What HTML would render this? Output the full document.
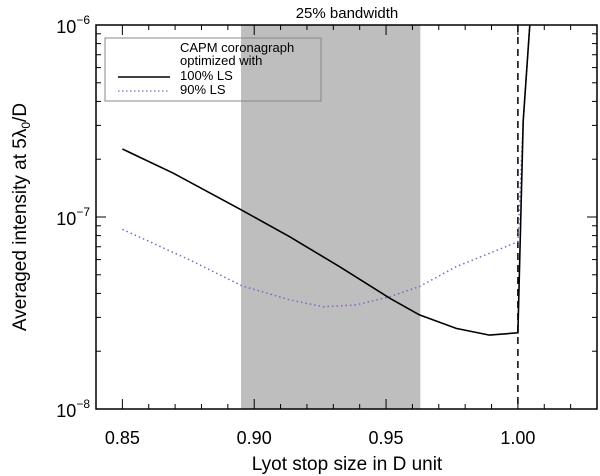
<!DOCTYPE html>
<html><head><meta charset="utf-8"><style>
html,body{margin:0;padding:0;background:#fff;}
svg{display:block;font-family:"Liberation Sans",sans-serif;}
</style></head><body>
<svg id="chart" width="600" height="476" viewBox="0 0 600 476">
<text x="347" y="18" text-anchor="middle" font-size="15">25% bandwidth</text>
<text x="347" y="470" text-anchor="middle" font-size="19">Lyot stop size in D unit</text>
<text transform="translate(26,217) rotate(-90)" text-anchor="middle" font-size="19">Averaged intensity at 5λ<tspan font-size="12" dy="4">0</tspan><tspan dy="-4">/D</tspan></text>
<g id="plot"></g>
</svg>
<script>
const xTicks=[0.85,0.90,0.95,1.00];
const xTickLabels=["0.85","0.90","0.95","1.00"];
const yDecades=[-8,-7,-6];
const yTickLabels=["8","7","6"];
const band=[0.895,0.963];
const vline=[1.0];
const lsX=[0.85,0.8693,0.8952,0.9135,0.9324,0.9514,0.9627,0.9766,0.9892,1.0,1.002,1.0045,1.006];
const ls100=[-6.646,-6.772,-6.964,-7.103,-7.259,-7.423,-7.51,-7.58,-7.615,-7.603,-6.5,-6.0,-5.8];
const ls90X=[0.85,0.8756,0.8952,0.9135,0.9261,0.9387,0.9514,0.9627,0.9766,0.9892,1.0,1.002,1.0045,1.006];
const ls90=[-7.064,-7.224,-7.358,-7.432,-7.467,-7.458,-7.415,-7.362,-7.259,-7.189,-7.129,-6.5,-6.0,-5.8];

const L=96,R=597,T=25,B=409,xmin=0.84,xmax=1.03;
const sx=v=>L+(v-xmin)/(xmax-xmin)*(R-L);
const sy=lg=>B-(lg-(-8))/2*(B-T);
const NS="http://www.w3.org/2000/svg";
const g=document.getElementById('plot');
function mk(t,a){const e=document.createElementNS(NS,t);for(const k in a)e.setAttribute(k,a[k]);g.appendChild(e);return e;}
const cp=mk('clipPath',{id:'cp'});g.removeChild(cp);
const cr=document.createElementNS(NS,'rect');cr.setAttribute('x',L);cr.setAttribute('y',T);cr.setAttribute('width',R-L);cr.setAttribute('height',B-T);cp.appendChild(cr);g.appendChild(cp);

let e=mk('rect',{x:sx(band[0]),y:T,width:sx(band[1])-sx(band[0]),height:B-T,fill:'#bebebe'});


e=mk('line',{x1:sx(vline[0]),x2:sx(vline[0]),y1:T,y2:B,stroke:'#000','stroke-width':1.5,'stroke-dasharray':'7,5'});



function path(xs,ys){return xs.map((x,i)=>(i?'L':'M')+sx(x).toFixed(1)+','+sy(ys[i]).toFixed(1)).join('');}
e=mk('path',{d:path(ls90X,ls90),fill:'none',stroke:'#8a5fc8','stroke-width':1.5,'stroke-dasharray':'1.5,3','clip-path':'url(#cp)'});


e=mk('path',{d:path(lsX,ls100),fill:'none',stroke:'#000','stroke-width':1.6,'clip-path':'url(#cp)'});



// axes box
e=mk('rect',{x:L,y:T,width:R-L,height:B-T,fill:'none',stroke:'#000','stroke-width':1.5});


// x ticks
for(let k=0;k<=19;k++){const v=xmin+k*0.01;const x=sx(v);const major=xTicks.some(t=>Math.abs(t-v)<1e-6);const len=major?10:5;
 mk('line',{x1:x,x2:x,y1:B,y2:B-len,stroke:'#000','stroke-width':1});
 mk('line',{x1:x,x2:x,y1:T,y2:T+len,stroke:'#000','stroke-width':1});}
xTicks.forEach((v,i)=>{const t=mk('text',{x:sx(v),y:444,'text-anchor':'middle','font-size':18});t.textContent=xTickLabels[i];
 
 });
// y ticks
yDecades.forEach((d,i)=>{const y=sy(d);
 mk('line',{x1:L,x2:L+10,y1:y,y2:y,stroke:'#000'});mk('line',{x1:R,x2:R-10,y1:y,y2:y,stroke:'#000'});
 const t=mk('text',{x:L-6,y:y+8,'text-anchor':'end','font-size':18});
 t.innerHTML='10<tspan font-size="12" dy="-9">−'+yTickLabels[i]+'</tspan>';
 
 
 if(d<-6){for(let m=2;m<=9;m++){const yy=sy(d+Math.log10(m));
  mk('line',{x1:L,x2:L+5,y1:yy,y2:yy,stroke:'#000'});mk('line',{x1:R,x2:R-5,y1:yy,y2:yy,stroke:'#000'});}}
});
// legend
e=mk('rect',{x:105,y:38,width:216,height:63,fill:'none',stroke:'#888','stroke-width':1});


[["CAPM coronagraph",52],["optimized with",65],["100% LS",80],[" 90% LS",94]].forEach(([s,y])=>{const t=mk('text',{x:180,y:y,'font-size':13,'xml:space':'preserve'});t.textContent=s;
 
 });
e=mk('line',{x1:118,x2:170,y1:77,y2:77,stroke:'#000','stroke-width':1.5});


e=mk('line',{x1:118,x2:170,y1:91,y2:91,stroke:'#8a5fc8','stroke-width':1.3,'stroke-dasharray':'1.5,2.5'});


</script>
</body></html>
